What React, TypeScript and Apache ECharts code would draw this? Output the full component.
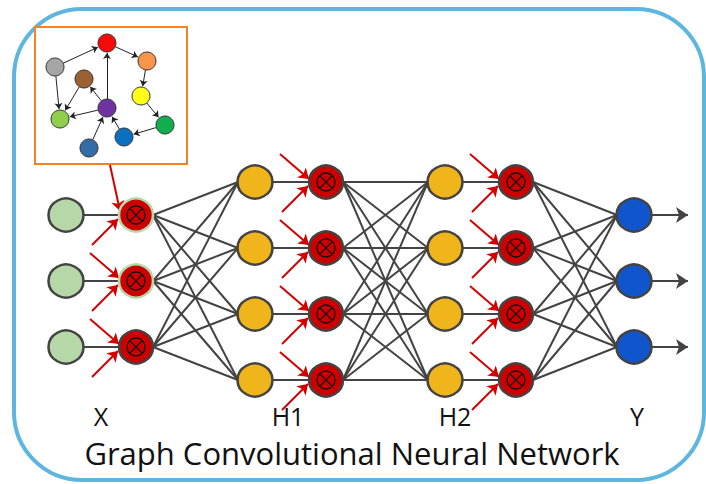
import React, { useEffect, useRef } from 'react';
import * as echarts from 'echarts';

// ---- network layout data ----
const layerNames = ['X', 'H1', 'H2', 'Y'];
const nodeColumnX = [66, 255, 445, 634];
const multiplierColumnX = [136, 326, 516];
const rows3 = [215, 281, 347];
const rows4 = [182, 248, 314, 380];
const layerRows = [rows3, rows4, rows4, rows3];
const layerColors = ['#b6d7a8', '#f1b51c', '#f1b51c', '#1155cc'];
const labelX = [101, 288, 455, 637];
const labelY = 416;
const haloMultipliers = [0, 1]; // rows of the X multipliers with a green rim
const outputArrowEnd = 688;
const titleText = 'Graph Convolutional Neural Network';

// ---- inset graph data ----
const insetNames = ['red', 'gray', 'orange', 'brown', 'yellow', 'purple', 'lightgreen', 'green', 'blue', 'darkblue'];
const insetX = [107, 55, 147, 84, 141, 107, 60, 165, 124, 89];
const insetY = [43, 67, 61, 79, 96, 108, 119, 125, 137, 148];
const insetColors = ['#f50a0a', '#a5a5a5', '#f7954a', '#9b6132', '#ffff1a', '#7132a1', '#8fcf4c', '#11ae4f', '#0a6fbf', '#336ca6'];
const insetEdges: [string, string][] = [
  ['gray', 'red'], ['red', 'orange'], ['orange', 'yellow'], ['yellow', 'green'],
  ['green', 'blue'], ['blue', 'purple'], ['darkblue', 'purple'], ['purple', 'red'],
  ['purple', 'brown'], ['purple', 'lightgreen'], ['brown', 'lightgreen'], ['gray', 'lightgreen'],
];
const insetSource = [110, 165]; // bottom of inset box, start of red arrow

const NODE_RX = 17;
const MULT_RX = 17;
const INSET_R = 9;

function shorten(a: number[], b: number[], ra: number, rb: number) {
  const dx = b[0] - a[0];
  const dy = b[1] - a[1];
  const len = Math.sqrt(dx * dx + dy * dy);
  const ux = dx / len;
  const uy = dy / len;
  return [[a[0] + ux * ra, a[1] + uy * ra], [b[0] - ux * rb, b[1] - uy * rb]];
}

export default function App() {
  const ref = useRef<HTMLDivElement>(null);
  useEffect(() => {
    if (!ref.current) return;
    const chart = echarts.init(ref.current, null, { renderer: 'svg' });

    const nodes: any[] = [];
    layerRows.forEach((rows, l) => {
      rows.forEach((y) => {
        nodes.push({ value: [nodeColumnX[l], y], itemStyle: { color: layerColors[l] } });
      });
    });

    const mults: any[] = [];
    const multSymbols: any[] = [];
    multiplierColumnX.forEach((mx, l) => {
      layerRows[l].forEach((y, i) => {
        const halo = l === 0 && haloMultipliers.indexOf(i) >= 0;
        mults.push({
          value: [mx, y],
          itemStyle: { color: '#cc0000', borderColor: halo ? '#b6d7a8' : '#434343' },
        });
        multSymbols.push([mx, y]);
      });
    });

    const grayLines: any[] = [];
    multiplierColumnX.forEach((mx, l) => {
      layerRows[l].forEach((y) => {
        grayLines.push({ coords: [[nodeColumnX[l] + NODE_RX, y], [mx - MULT_RX, y]] });
        layerRows[l + 1].forEach((y2) => {
          grayLines.push({ coords: [[mx + MULT_RX, y], [nodeColumnX[l + 1] - NODE_RX, y2]] });
        });
      });
    });

    const outArrows: any[] = layerRows[3].map((y) => ({
      coords: [[nodeColumnX[3] + NODE_RX, y], [outputArrowEnd, y]],
    }));

    const redArrows: any[] = [];
    multiplierColumnX.forEach((mx, l) => {
      layerRows[l].forEach((y, i) => {
        if (l === 0 && i === 0) {
          redArrows.push({ coords: [insetSource, [mx - 16, y - 4]] });
        } else {
          redArrows.push({ coords: [[mx - 46, y - 28], [mx - 17, y - 3]] });
        }
        redArrows.push({ coords: [[mx - 44, y + 30], [mx - 18, y + 4]] });
      });
    });

    const insetNodes = insetNames.map((n, i) => ({
      value: [insetX[i], insetY[i]],
      itemStyle: { color: insetColors[i] },
    }));
    const insetLines = insetEdges.map(([s, t]) => {
      const a = insetNames.indexOf(s);
      const b = insetNames.indexOf(t);
      return { coords: shorten([insetX[a], insetY[a]], [insetX[b], insetY[b]], INSET_R, INSET_R + 1) };
    });

    const layerLabels = layerNames.map((name, i) => ({
      type: 'text',
      x: labelX[i],
      y: labelY,
      style: {
        text: name,
        fontSize: 25,
        fontFamily: 'Open Sans',
        fill: '#111',
        textAlign: 'center',
        textVerticalAlign: 'middle',
      },
    }));

    chart.setOption({
      animation: false,
      backgroundColor: '#ffffff',
      grid: { left: 0, right: 0, top: 0, bottom: 0 },
      xAxis: { type: 'value', min: 0, max: 706, show: false },
      yAxis: { type: 'value', min: 0, max: 484, inverse: true, show: false },
      graphic: [
        {
          type: 'rect',
          z: 0,
          shape: { x: 14, y: 9, width: 690, height: 471, r: 68 },
          style: { fill: 'none', stroke: '#5db6e0', lineWidth: 4 },
        },
        {
          type: 'rect',
          z: 0,
          shape: { x: 35, y: 27, width: 152, height: 137 },
          style: { fill: '#fff', stroke: '#f58220', lineWidth: 2 },
        },
        ...layerLabels,
        {
          type: 'text',
          x: 352,
          y: 453,
          style: {
            text: titleText,
            fontSize: 31,
            fontFamily: 'Open Sans',
            fill: '#111',
            textAlign: 'center',
            textVerticalAlign: 'middle',
          },
        },
      ],
      series: [
        {
          type: 'lines',
          coordinateSystem: 'cartesian2d',
          silent: true,
          symbol: ['none', 'none'],
          lineStyle: { color: '#434343', width: 2, opacity: 1 },
          data: grayLines,
        },
        {
          type: 'lines',
          coordinateSystem: 'cartesian2d',
          silent: true,
          symbol: ['none', 'arrow'],
          symbolSize: [9, 12],
          lineStyle: { color: '#434343', width: 2, opacity: 1 },
          data: outArrows,
        },
        {
          type: 'lines',
          coordinateSystem: 'cartesian2d',
          silent: true,
          symbol: ['none', 'arrow'],
          symbolSize: [8, 10],
          lineStyle: { color: '#d40000', width: 2, opacity: 1 },
          data: redArrows,
        },
        {
          type: 'lines',
          coordinateSystem: 'cartesian2d',
          silent: true,
          symbol: ['none', 'arrow'],
          symbolSize: [4, 6],
          lineStyle: { color: '#222', width: 1, opacity: 1 },
          data: insetLines,
        },
        {
          type: 'scatter',
          silent: true,
          symbol: 'circle',
          symbolSize: [35, 33],
          itemStyle: { borderColor: '#434343', borderWidth: 2.5, opacity: 1 },
          data: nodes,
          z: 3,
        },
        {
          type: 'scatter',
          silent: true,
          symbol: 'circle',
          symbolSize: [34, 33],
          itemStyle: { borderWidth: 2.5, opacity: 1 },
          data: mults,
          z: 3,
        },
        {
          type: 'scatter',
          silent: true,
          symbol: 'path://M10,0A10,10 0 1 1 -10,0A10,10 0 1 1 10,0ZM-7.07,-7.07L7.07,7.07M7.07,-7.07L-7.07,7.07',
          symbolSize: 18,
          itemStyle: { color: 'rgba(0,0,0,0)', borderColor: '#111', borderWidth: 1.3, opacity: 1 },
          data: multSymbols,
          z: 4,
        },
        {
          type: 'scatter',
          silent: true,
          symbol: 'circle',
          symbolSize: 18,
          itemStyle: { borderColor: '#333', borderWidth: 1, opacity: 1 },
          data: insetNodes,
          z: 3,
        },
      ],
    });
    return () => chart.dispose();
  }, []);
  return <div ref={ref} style={{ position: 'fixed', left: 0, top: 0, width: 706, height: 484 }} />;
}
